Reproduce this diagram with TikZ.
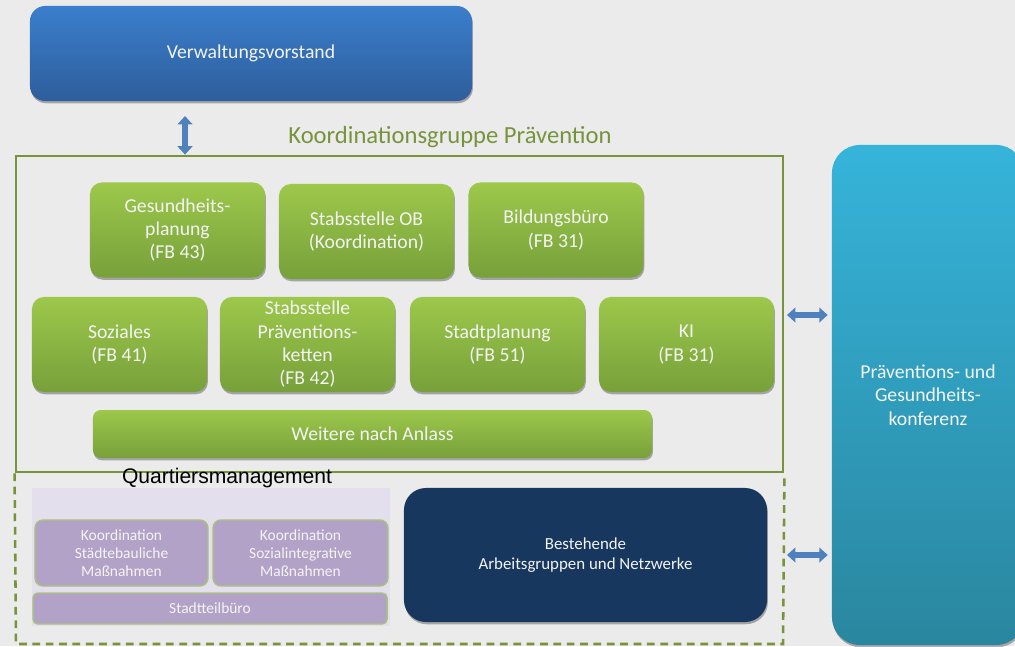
\documentclass[tikz,border=0pt]{standalone}
\usepackage{fontspec}
\setmainfont{Carlito}
\newfontfamily\arialfont{Liberation Sans}
\usetikzlibrary{positioning,arrows.meta,shadows}
\definecolor{canvas}{HTML}{EBEBEB}
\definecolor{blauhell}{HTML}{3B7ECC}
\definecolor{blaudunkel}{HTML}{2E5E9C}
\definecolor{pfeilblau}{HTML}{4F81BD}
\definecolor{gruenhell}{HTML}{9DC84B}
\definecolor{gruendunkel}{HTML}{77A03A}
\definecolor{gruenrand}{HTML}{77933C}
\definecolor{lavendel}{HTML}{E4DFEC}
\definecolor{lila}{HTML}{B3A2C7}
\definecolor{lilarand}{HTML}{A9C47A}
\definecolor{navy}{HTML}{17375E}
\definecolor{cyanhell}{HTML}{36B4DA}
\definecolor{cyandunkel}{HTML}{2A869F}
\definecolor{hellweiss}{HTML}{F4F4F4}

\tikzset{
  schatten/.style={drop shadow={shadow xshift=0.6pt,shadow yshift=-1.6pt,opacity=0.3,fill=black}},
  gruenbox/.style={rounded corners=0.3cm,top color=gruenhell,bottom color=gruendunkel,
    text=hellweiss,align=center,font=\fontsize{14}{16.6}\selectfont,
    minimum width=4.375cm,minimum height=2.375cm,inner sep=2pt,schatten},
  lilabox/.style={rounded corners=0.2cm,fill=lila,draw=lilarand,line width=1pt,
    text=hellweiss,align=center,font=\fontsize{11}{13}\selectfont,inner sep=1pt},
  dblpfeil/.style={pfeilblau,line width=3.6pt,
    {Triangle[width=10.5pt,length=6pt]}-{Triangle[width=10.5pt,length=6pt]}},
  gestrichelt/.style={gruenrand,line width=1.8pt,dash pattern=on 5.5pt off 4pt}
}

\begin{document}
\begin{tikzpicture}[x=0.025cm,y=-0.025cm]
\useasboundingbox (0,0) rectangle (1015,646);
\fill[canvas] (0,0) rectangle (1015,646);

% Verwaltungsvorstand oben
\node[rounded corners=0.38cm,top color=blauhell,bottom color=blaudunkel,text=hellweiss,
  font=\fontsize{14}{16.6}\selectfont,minimum width=11.05cm,minimum height=2.375cm,schatten]
  (vv) at (251,53.5) {Verwaltungsvorstand};

% Koordinationsgruppe
\node[draw=gruenrand,line width=1.9pt,minimum width=19.175cm,minimum height=7.9cm,inner sep=0]
  (kgruppe) at (399.5,314) {};
\node[gruenrand,font=\fontsize{17.5}{20}\selectfont] (ktitel) at (450,137) {Koordinationsgruppe Prävention};

\node[gruenbox] (gesund) at (177.5,230) {Gesundheits-\\planung\\(FB 43)};
\node[gruenbox] (stabob) at (366.5,231.5) {Stabsstelle OB\\(Koordination)};
\node[gruenbox] (bildung) at (556,230) {Bildungsbüro\\(FB 31)};
\node[gruenbox] (soziales) at (119.5,344.5) {Soziales\\(FB 41)};
\node[gruenbox] (praev) at (307.5,344.5) {Stabsstelle\\Präventions-\\ketten\\(FB 42)};
\node[gruenbox] (stadtpl) at (497.5,344.5) {Stadtplanung\\(FB 51)};
\node[gruenbox] (ki) at (686.5,344.5) {KI\\(FB 31)};
\node[gruenbox,rounded corners=0.2cm,minimum width=13.975cm,minimum height=1.2cm]
  (weitere) at (372.5,434) {Weitere nach Anlass};

% Quartiersmanagement und Netzwerke
\draw[gestrichelt] (kgruppe.south west) -- (16,644) -- (783,644) -- (kgruppe.south east);
\node[font=\arialfont\fontsize{15}{17}\selectfont] (qm) at (227,478) {Quartiersmanagement};
\fill[lavendel] (32,488) rectangle (390,626);
\node[lilabox,minimum width=4.325cm,minimum height=1.65cm] (kstaedte) at (121.5,553)
  {Koordination\\Städtebauliche\\Maßnahmen};
\node[lilabox,minimum width=4.375cm,minimum height=1.65cm] (ksozial) at (300.5,553)
  {Koordination\\Sozialintegrative\\Maßnahmen};
\node[lilabox,rounded corners=0.12cm,minimum width=8.85cm,minimum height=0.775cm]
  (stadtteil) at (210,608.5) {Stadtteilbüro};
\node[rounded corners=0.55cm,fill=navy,text=hellweiss,align=center,
  font=\fontsize{12}{14.2}\selectfont,minimum width=9.075cm,minimum height=3.35cm,schatten]
  (arbeit) at (585.5,555) {Bestehende\\Arbeitsgruppen und Netzwerke};

% Konferenz rechts
\node[rounded corners=0.7cm,top color=cyanhell,bottom color=cyandunkel,text=hellweiss,align=center,
  font=\fontsize{14}{16.6}\selectfont,minimum width=4.8cm,minimum height=12.5cm,schatten]
  (konf) at (928,395) {Präventions- und\\Gesundheits-\\konferenz};

% Pfeile
\coordinate (a1) at (185,116);
\draw[dblpfeil] (a1) -- (a1 |- kgruppe.north);
\coordinate (a2) at (787,315);
\coordinate (a3) at (787,555);
\draw[dblpfeil,shorten >=0.1cm] (a2) -- (a2 -| konf.west);
\draw[dblpfeil,shorten >=0.1cm] (a3) -- (a3 -| konf.west);
\end{tikzpicture}
\end{document}
